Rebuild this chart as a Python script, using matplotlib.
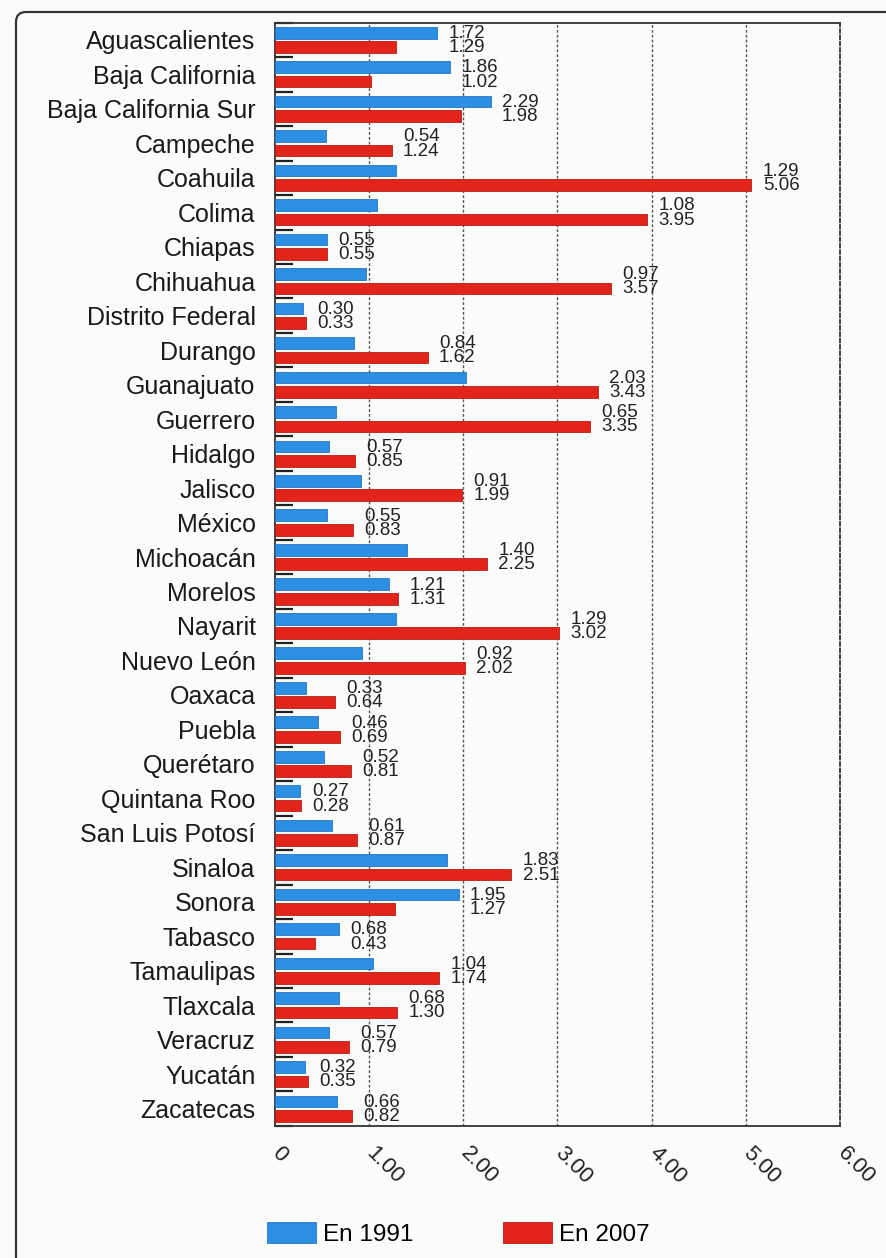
import matplotlib
matplotlib.use("Agg")
import matplotlib.pyplot as plt
import matplotlib.transforms as mtransforms
from matplotlib.patches import FancyBboxPatch
import numpy as np

states = ["Aguascalientes", "Baja California", "Baja California Sur", "Campeche",
          "Coahuila", "Colima", "Chiapas", "Chihuahua", "Distrito Federal",
          "Durango", "Guanajuato", "Guerrero", "Hidalgo", "Jalisco", "México",
          "Michoacán", "Morelos", "Nayarit", "Nuevo León", "Oaxaca", "Puebla",
          "Querétaro", "Quintana Roo", "San Luis Potosí", "Sinaloa", "Sonora",
          "Tabasco", "Tamaulipas", "Tlaxcala", "Veracruz", "Yucatán", "Zacatecas"]

val_1991 = [1.72, 1.86, 2.29, 0.54, 1.29, 1.08, 0.55, 0.97, 0.30, 0.84,
            2.03, 0.65, 0.57, 0.91, 0.55, 1.40, 1.21, 1.29, 0.92, 0.33,
            0.46, 0.52, 0.27, 0.61, 1.83, 1.95, 0.68, 1.04, 0.68, 0.57,
            0.32, 0.66]

val_2007 = [1.29, 1.02, 1.98, 1.24, 5.06, 3.95, 0.55, 3.57, 0.33, 1.62,
            3.43, 3.35, 0.85, 1.99, 0.83, 2.25, 1.31, 3.02, 2.02, 0.64,
            0.69, 0.81, 0.28, 0.87, 2.51, 1.27, 0.43, 1.74, 1.30, 0.79,
            0.35, 0.82]

x_ticks = [0, 1, 2, 3, 4, 5, 6]
x_labels = ["0", "1.00", "2.00", "3.00", "4.00", "5.00", "6.00"]

blue = "#2d8fe3"
red = "#e3241b"

plt.rcParams["font.family"] = ["Liberation Sans", "DejaVu Sans"]

fig = plt.figure(figsize=(8.87, 12.58), dpi=100)
fig.patch.set_facecolor("#fbfbfa")
ax = fig.add_axes([0.310, 0.105, 0.637, 0.877])
ax.set_facecolor("#fbfbfa")

y = np.arange(len(states))
h = 0.34
b1 = ax.barh(y - 0.21, val_1991, height=h, color=blue, edgecolor="#2277c8",
             linewidth=0.6, label="En 1991", zorder=3)
b2 = ax.barh(y + 0.21, val_2007, height=h, color=red, edgecolor="#b81c15",
             linewidth=0.6, label="En 2007", zorder=3)

# both values stacked in one label, right of the longer bar
for i in range(len(states)):
    xpos = max(val_1991[i], val_2007[i]) + 0.12
    ax.text(xpos, y[i] + 0.02, f"{val_1991[i]:.2f}\n{val_2007[i]:.2f}",
            va="center", ha="left", fontsize=13.5, linespacing=0.78,
            color="#222222", zorder=4)

ax.set_xlim(0, 6)
ax.set_ylim(len(states) - 0.5, -0.5)

ax.set_yticks(y)
ax.set_yticklabels(states, fontsize=18, color="#1a1a1a")
ax.tick_params(axis="y", which="major", length=0, pad=14)
ax.set_yticks(np.arange(-0.5, len(states), 1.0), minor=True)
ax.tick_params(axis="y", which="minor", direction="in", length=13, width=1.6,
               color="#222222")

ax.set_xticks(x_ticks)
ax.set_xticklabels(x_labels, fontsize=16, rotation=-45, ha="left", va="top",
                   color="#222222")
ax.tick_params(axis="x", length=0, pad=12)
shift = mtransforms.ScaledTranslation(-7 / 100, 0, fig.dpi_scale_trans)
for lab in ax.get_xticklabels():
    lab.set_transform(lab.get_transform() + shift)

for gx in x_ticks[1:-1]:
    ax.axvline(gx, color="#555555", linewidth=1.0, linestyle=(0, (2, 1.5)),
               zorder=1)

for s in ax.spines.values():
    s.set_color("#333333")
    s.set_linewidth(1.3)
ax.spines["right"].set_linestyle((0, (2, 1.5)))

fig.legend(handles=[b1, b2], loc="center", bbox_to_anchor=(0.517, 0.019),
           ncol=2, frameon=False, fontsize=17.5, handlelength=2.0,
           handleheight=0.9, handletextpad=0.3, columnspacing=3.7)

# scanned page frame
frame = FancyBboxPatch((16, -30), 900, 1276, boxstyle="round,pad=0,rounding_size=10",
                       transform=mtransforms.IdentityTransform(), fill=False,
                       edgecolor="#333333", linewidth=1.6)
fig.patches.append(frame)

fig.savefig("out.png", dpi=100)
